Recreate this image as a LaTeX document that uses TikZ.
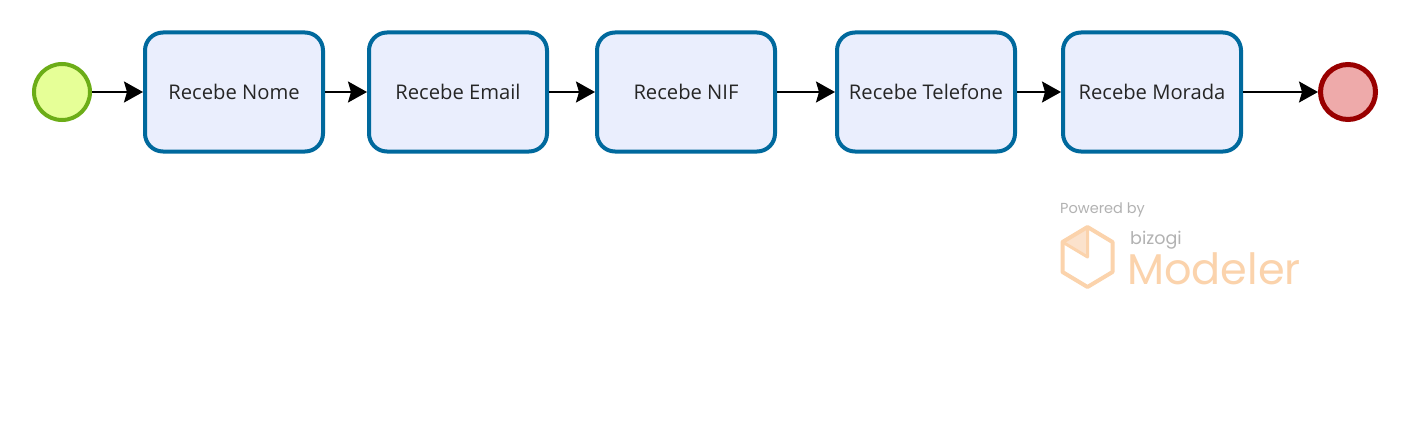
\documentclass[tikz,border=0pt]{standalone}
\usepackage{fontspec}
\setmainfont{Open Sans}
\newfontfamily\logofont{Poppins}
\usetikzlibrary{arrows.meta}
\definecolor{taskline}{HTML}{00699D}
\definecolor{taskfill}{HTML}{EAEEFD}
\definecolor{startline}{HTML}{6CAD17}
\definecolor{startfill}{HTML}{E6FF97}
\definecolor{endline}{HTML}{990000}
\definecolor{endfill}{HTML}{EEAAAA}
\definecolor{logoline}{HTML}{FBD3AC}
\definecolor{logofill}{HTML}{FBE2CC}
\tikzset{
    task/.style={draw=taskline,fill=taskfill,line width=4pt,rounded corners=18pt,
        minimum width=178pt,minimum height=119pt,inner sep=0pt,text=black!85,font=\fontsize{20.2}{24}\selectfont},
    startev/.style={circle,draw=startline,fill=startfill,line width=4pt,minimum size=56pt,inner sep=0pt},
    endev/.style={circle,draw=endline,fill=endfill,line width=5pt,minimum size=55pt,inner sep=0pt},
    flow/.style={draw=black,line width=2pt,-{Stealth[length=19pt,width=21pt,inset=3pt]}},
    logotext/.style={anchor=base west,inner sep=0pt}
}
\begin{document}
\begin{tikzpicture}[x=1pt,y=-1pt]
    \useasboundingbox[fill=white] (0,0) rectangle (1410,444);

    \node[startev] (start) at (62,92){};
    \node[task] (nome) at (234,92){Recebe Nome};
    \node[task] (email) at (458,92){Recebe Email};
    \node[task] (nif) at (686,92){Recebe NIF};
    \node[task] (telefone) at (926,92){Recebe Telefone};
    \node[task] (morada) at (1152,92){Recebe Morada};
    \node[endev] (end) at (1348,92){};

    \foreach \a/\b in {start/nome,nome/email,email/nif,nif/telefone,telefone/morada,morada/end}{
        \draw[flow] (\a) -- (\b);
    }

    \node[logotext,text=black!30,font=\logofont\fontsize{14.5}{16}\selectfont] (powered) at (1060,213){Powered by};
    \node[logotext,text=black!30,font=\logofont\fontsize{17.5}{18}\selectfont] (bizogi) at (1130,244){bizogi};
    \node[logotext,text=logoline,font=\logofont\fontsize{43}{50}\selectfont] (modeler) at (1127,284){Modeler};

    \fill[logofill] (1063,242) -- (1087.5,228) -- (1087.5,257) -- cycle;
    \draw[logoline,line width=4pt,line join=round] (1087.5,227) -- (1112.5,242) -- (1112.5,272) -- (1087.5,287) -- (1062.5,272) -- (1062.5,242) -- cycle;
    \draw[logoline,line width=3pt,line join=round] (1062.5,242) -- (1087.5,257) -- (1087.5,227);
\end{tikzpicture}
\end{document}
